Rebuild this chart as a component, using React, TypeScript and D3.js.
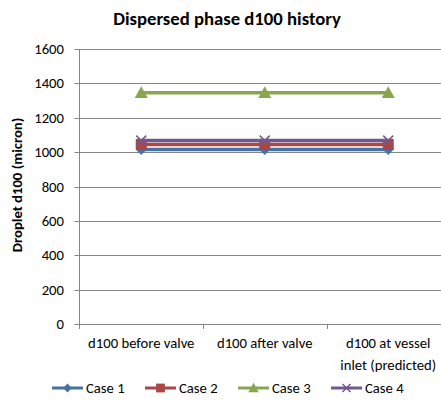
import React from "react";
import * as d3 from "d3";

const categories = ["d100 before valve", "d100 after valve", "d100 at vessel|inlet (predicted)"];
const seriesNames = ["Case 1", "Case 2", "Case 3", "Case 4"];
const case1 = [1015, 1015, 1015];
const case2 = [1045, 1045, 1045];
const case3 = [1345, 1345, 1345];
const case4 = [1067, 1067, 1067];
const yTicks = [0, 200, 400, 600, 800, 1000, 1200, 1400, 1600];
const colors = ["#4572A7", "#AA4643", "#89A54E", "#71588F"];
const markers = ["diamond", "square", "triangle", "x"];

const W = 441, H = 407;
const left = 79.5, top = 49, bottom = 324;
const catW = 123.5;

function Marker({ type, x, y, color, k = 1 }: { type: string; x: number; y: number; color: string; k?: number }) {
  if (type === "diamond") {
    const s = 5.5 * k;
    return <path d={`M${x},${y - s}L${x + s},${y}L${x},${y + s}L${x - s},${y}Z`} fill={color} />;
  }
  if (type === "square") {
    const s = 5.5 * k;
    return <rect x={x - s} y={y - s} width={2 * s} height={2 * s} fill={color} />;
  }
  if (type === "triangle") {
    const s = 6.5 * k;
    return <path d={`M${x},${y - s}L${x + s},${y + s * 0.8}L${x - s},${y + s * 0.8}Z`} fill={color} />;
  }
  const s = 5 * k;
  return (
    <path d={`M${x - s},${y - s}L${x + s},${y + s}M${x - s},${y + s}L${x + s},${y - s}`} stroke={color} strokeWidth={1.5} fill="none" />
  );
}

export default function App() {
  const y = d3.scaleLinear().domain([0, 1600]).range([bottom, top]);
  const x = d3.scaleBand().domain(categories).range([left, left + catW * 3]);
  const series = [case1, case2, case3, case4];
  const line = d3.line<number>().x((_, i) => x(categories[i])! + x.bandwidth() / 2).y((d) => y(d));
  const font = "Carlito, Lato, 'Open Sans', sans-serif";
  const order = [2, 0, 1, 3];
  return (
    <svg width={W} height={H} style={{ position: "absolute", left: 0, top: 0, fontFamily: font }}>
      <rect width={W} height={H} fill="#fff" />
      <text x={227} y={25} textAnchor="middle" fontWeight="bold" fontSize={18.7}>
        Dispersed phase d100 history
      </text>
      {yTicks.map((t) => (
        <g key={t}>
          <line x1={left - 5} x2={W} y1={Math.round(y(t)) + 0.5} y2={Math.round(y(t)) + 0.5} stroke="#868686" strokeWidth={1} />
          <text x={64} y={y(t) + 5} textAnchor="end" fontSize={14.7}>
            {t}
          </text>
        </g>
      ))}
      <line x1={left} x2={left} y1={top} y2={bottom + 5} stroke="#868686" strokeWidth={1} />
      {categories.map((c, i) => {
        const xx = Math.round(x(c)! + catW) + 0.5;
        const cx = x(c)! + x.bandwidth() / 2;
        const parts = c.split("|");
        return (
          <g key={c}>
            <line x1={xx} x2={xx} y1={bottom} y2={bottom + 5} stroke="#868686" />
            {parts.map((p, j) => (
              <text key={j} x={cx} y={348 + j * 22} textAnchor="middle" fontSize={14.7}>
                {p}
              </text>
            ))}
          </g>
        );
      })}
      <text transform={`translate(22,185) rotate(-90)`} textAnchor="middle" fontWeight="bold" fontSize={14.7}>
        Droplet d100 (micron)
      </text>
      {order.map((si) => (
        <g key={si}>
          <path d={line(series[si])!} stroke={colors[si]} strokeWidth={3.5} fill="none" />
          {series[si].map((v, i) => (
            <Marker key={i} type={markers[si]} x={x(categories[i])! + x.bandwidth() / 2} y={y(v)} color={colors[si]} />
          ))}
        </g>
      ))}
      {seriesNames.map((n, i) => {
        const lx = 52 + i * 93;
        const ly = 388;
        return (
          <g key={n}>
            <line x1={lx} x2={lx + 31} y1={ly} y2={ly} stroke={colors[i]} strokeWidth={3} />
            <Marker type={markers[i]} x={lx + 15.5} y={ly} color={colors[i]} k={0.8} />
            <text x={lx + 34} y={ly + 5} fontSize={14.7}>
              {n}
            </text>
          </g>
        );
      })}
    </svg>
  );
}
